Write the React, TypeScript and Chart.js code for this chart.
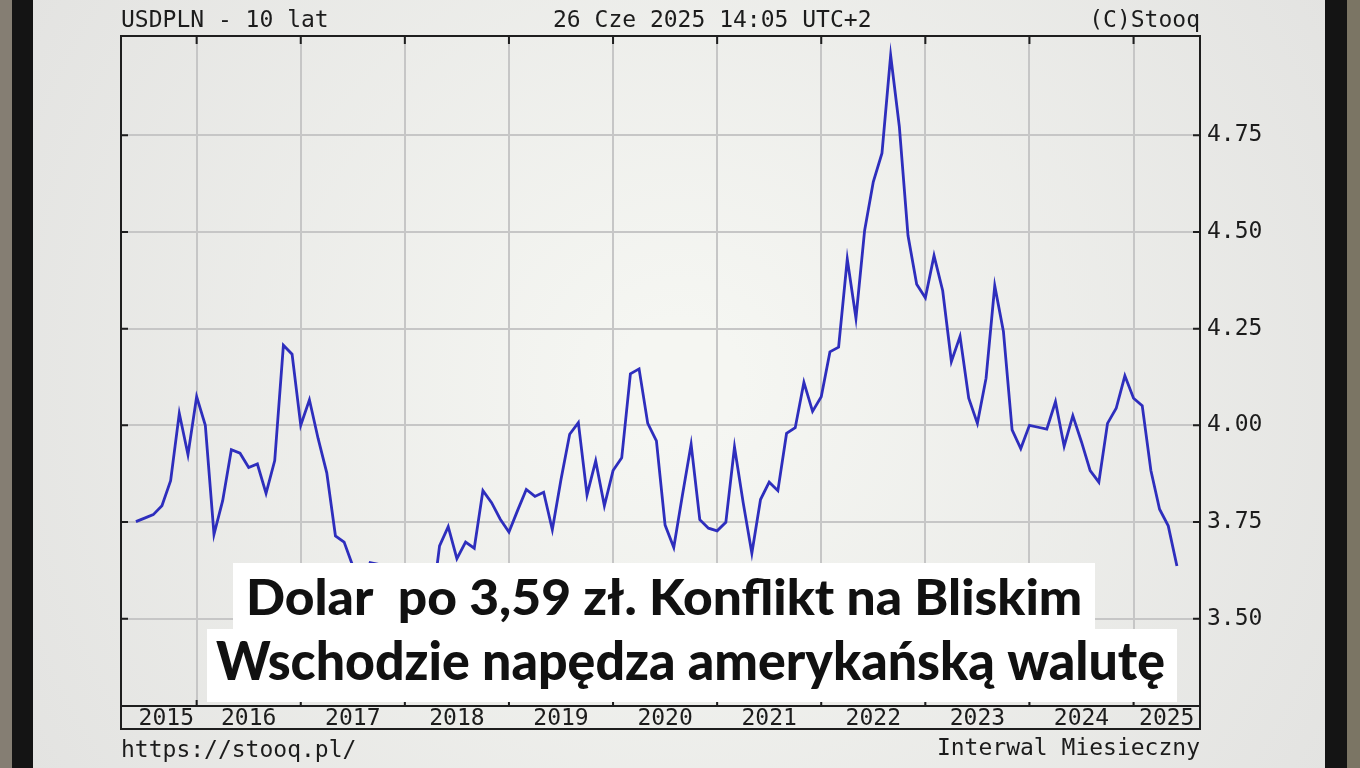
import React, { useEffect, useRef } from "react";
import { Chart, registerables } from "chart.js";

Chart.register(...registerables);

// ---- data: USD/PLN monthly closes ----
const FIRST_YEAR = 2015;
const FIRST_MONTH = 6; // June 2015
const usd2015 = [3.751, 3.76, 3.769, 3.792, 3.857, 4.031, 3.924];
const usd2016 = [4.074, 4.0, 3.718, 3.805, 3.937, 3.928, 3.891, 3.9, 3.824, 3.909, 4.207, 4.184];
const usd2017 = [4.0, 4.066, 3.966, 3.877, 3.714, 3.698, 3.636, 3.57, 3.645, 3.64, 3.54, 3.48];
const usd2018 = [3.34, 3.41, 3.42, 3.51, 3.688, 3.738, 3.655, 3.698, 3.682, 3.831, 3.8, 3.757];
const usd2019 = [3.724, 3.78, 3.834, 3.816, 3.827, 3.73, 3.86, 3.977, 4.007, 3.82, 3.908, 3.792];
const usd2020 = [3.883, 3.916, 4.133, 4.146, 4.005, 3.96, 3.742, 3.684, 3.82, 3.951, 3.756, 3.734];
const usd2021 = [3.727, 3.749, 3.944, 3.8, 3.669, 3.808, 3.853, 3.831, 3.979, 3.994, 4.111, 4.036];
const usd2022 = [4.074, 4.19, 4.202, 4.43, 4.277, 4.504, 4.63, 4.704, 4.957, 4.773, 4.491, 4.365];
const usd2023 = [4.33, 4.439, 4.348, 4.165, 4.23, 4.07, 4.005, 4.122, 4.361, 4.243, 3.988, 3.94];
const usd2024 = [4.0, 3.995, 3.99, 4.061, 3.946, 4.025, 3.957, 3.883, 3.853, 4.005, 4.044, 4.128];
const usd2025 = [4.07, 4.051, 3.883, 3.783, 3.74, 3.636];

const yearLabels = ["2015", "2016", "2017", "2018", "2019", "2020", "2021", "2022", "2023", "2024", "2025"];
const yTickValues = [3.5, 3.75, 4.0, 4.25, 4.5, 4.75];

const titleLeft = "USDPLN - 10 lat";
const titleCenter = "26 Cze 2025 14:05 UTC+2";
const titleRight = "(C)Stooq";
const footerLeft = "https://stooq.pl/";
const footerRight = "Interwal Miesieczny";
const headline1 = "Dolar  po 3,59 zł. Konflikt na Bliskim";
const headline2 = "Wschodzie napędza amerykańską walutę";

// axis ranges (months counted from Jan 2015)
const X_MIN = 3.28;
const X_MAX = 127.66;
const Y_MIN = 3.274;
const Y_MAX = 5.007;

const series = [
  ...usd2015, ...usd2016, ...usd2017, ...usd2018, ...usd2019, ...usd2020,
  ...usd2021, ...usd2022, ...usd2023, ...usd2024, ...usd2025,
];
const firstIdx = FIRST_MONTH - 1;
const points = series.map((v, i) => ({ x: firstIdx + i, y: v }));

const yearBoundaries = yearLabels.slice(1).map((_, k) => (k + 1) * 12);
const yearLabelPos = yearLabels.map((_, k) => {
  const s = Math.max(k * 12, firstIdx);
  const e = Math.min((k + 1) * 12, X_MAX);
  return (s + e) / 2;
});

const MONO = '"DejaVu Sans Mono", monospace';
const TEXT = "#1c1c1c";
const GRID = "#c6c6c6";
const FRAME = "#1e1e1e";

function fitText(ctx: CanvasRenderingContext2D, text: string, left: number, right: number, baseline: number, size: number) {
  ctx.save();
  ctx.font = `900 ${size}px Lato, "Open Sans", sans-serif`;
  ctx.textAlign = "left";
  ctx.textBaseline = "alphabetic";
  const m = ctx.measureText(text);
  const w = m.actualBoundingBoxLeft + m.actualBoundingBoxRight;
  const sx = (right - left) / w;
  ctx.translate(left, baseline);
  ctx.scale(sx, 1);
  ctx.fillText(text, m.actualBoundingBoxLeft, 0);
  ctx.restore();
}

const decorPlugin = {
  id: "decor",
  beforeDraw(chart: any) {
    const { ctx, width, height } = chart;
    ctx.save();
    const g = ctx.createRadialGradient(680, 380, 60, 680, 380, 760);
    g.addColorStop(0, "#f5f6f2");
    g.addColorStop(1, "#e3e3e1");
    ctx.fillStyle = g;
    ctx.fillRect(0, 0, width, height);
    ctx.fillStyle = "#857e73";
    ctx.fillRect(0, 0, 12, height);
    ctx.fillStyle = "#141414";
    ctx.fillRect(12, 0, 21, height);
    ctx.fillStyle = "#141414";
    ctx.fillRect(1325, 0, 22, height);
    ctx.fillStyle = "#7b7564";
    ctx.fillRect(1347, 0, 13, height);
    ctx.restore();
  },
  afterDraw(chart: any) {
    const { ctx, chartArea: ca, scales } = chart;
    ctx.save();
    // plot frame
    ctx.strokeStyle = FRAME;
    ctx.lineWidth = 2;
    ctx.strokeRect(ca.left, ca.top, ca.right - ca.left, ca.bottom - ca.top);
    // year label strip
    ctx.strokeRect(ca.left, ca.bottom, ca.right - ca.left, 23);
    // tick stubs
    ctx.beginPath();
    yearBoundaries.forEach((b) => {
      const x = scales.x.getPixelForValue(b);
      ctx.moveTo(x, ca.top);
      ctx.lineTo(x, ca.top + 8);
      ctx.moveTo(x, ca.bottom);
      ctx.lineTo(x, ca.bottom - 6);
    });
    yTickValues.forEach((t) => {
      const y = scales.y.getPixelForValue(t);
      ctx.moveTo(ca.left, y);
      ctx.lineTo(ca.left + 7, y);
      ctx.moveTo(ca.right, y);
      ctx.lineTo(ca.right - 7, y);
    });
    ctx.stroke();

    // header / footer texts
    ctx.fillStyle = TEXT;
    ctx.font = `23px ${MONO}`;
    ctx.textBaseline = "alphabetic";
    ctx.textAlign = "left";
    ctx.fillText(titleLeft, 121, 27);
    ctx.fillText(titleCenter, 553, 27);
    ctx.fillText(footerLeft, 121, 757);
    ctx.textAlign = "right";
    ctx.fillText(titleRight, 1200, 27);
    ctx.fillText(footerRight, 1200, 755);

    // headline overlay
    ctx.textAlign = "left";
    ctx.fillStyle = "#ffffff";
    ctx.fillRect(233, 563, 862, 67);
    ctx.fillRect(207, 629, 970, 73);
    ctx.fillStyle = "#111111";
    fitText(ctx, headline1, 249, 1080, 615, 50);
    fitText(ctx, headline2, 216, 1164, 680, 54);
    ctx.restore();
  },
};

export default function App() {
  const canvasRef = useRef<HTMLCanvasElement | null>(null);

  useEffect(() => {
    if (!canvasRef.current) return;
    const chart = new Chart(canvasRef.current, {
      type: "line",
      data: {
        datasets: [
          {
            label: "USDPLN",
            data: points,
            borderColor: "#2e2ebd",
            borderWidth: 2.8,
            pointRadius: 0,
            tension: 0,
            fill: false,
          },
        ],
      },
      options: {
        responsive: false,
        animation: false,
        devicePixelRatio: 1,
        layout: { padding: { left: 121, top: 36, right: 0, bottom: 0 } },
        plugins: {
          legend: { display: false },
          tooltip: { enabled: false },
          title: { display: false },
        },
        scales: {
          x: {
            type: "linear",
            position: "bottom",
            min: X_MIN,
            max: X_MAX,
            afterFit: (s: any) => {
              s.height = 62;
            },
            afterBuildTicks: (s: any) => {
              const vals = [...yearBoundaries, ...yearLabelPos].sort((a, b) => a - b);
              s.ticks = vals.map((v) => ({ value: v }));
            },
            grid: {
              drawTicks: false,
              lineWidth: 2,
              color: (c: any) =>
                c.tick && yearBoundaries.includes(c.tick.value) ? GRID : "rgba(0,0,0,0)",
            },
            border: { display: false },
            ticks: {
              autoSkip: false,
              maxRotation: 0,
              minRotation: 0,
              padding: 2,
              color: TEXT,
              font: { family: MONO, size: 23, lineHeight: 1 },
              callback: (v: any) => {
                const k = yearLabelPos.indexOf(Number(v));
                return k >= 0 ? yearLabels[k] : "";
              },
            },
          },
          y: {
            type: "linear",
            position: "right",
            min: Y_MIN,
            max: Y_MAX,
            afterFit: (s: any) => {
              s.width = 160;
            },
            afterBuildTicks: (s: any) => {
              s.ticks = yTickValues.map((v) => ({ value: v }));
            },
            grid: { drawTicks: false, lineWidth: 2, color: GRID },
            border: { display: false },
            ticks: {
              padding: 7,
              color: TEXT,
              font: { family: MONO, size: 23, lineHeight: 1 },
              callback: (v: any) => Number(v).toFixed(2),
            },
          },
        },
      },
      plugins: [decorPlugin],
    });
    return () => chart.destroy();
  }, []);

  return (
    <div style={{ position: "absolute", left: 0, top: 0, width: 1360, height: 768 }}>
      <canvas ref={canvasRef} width={1360} height={768} style={{ display: "block" }} />
    </div>
  );
}
